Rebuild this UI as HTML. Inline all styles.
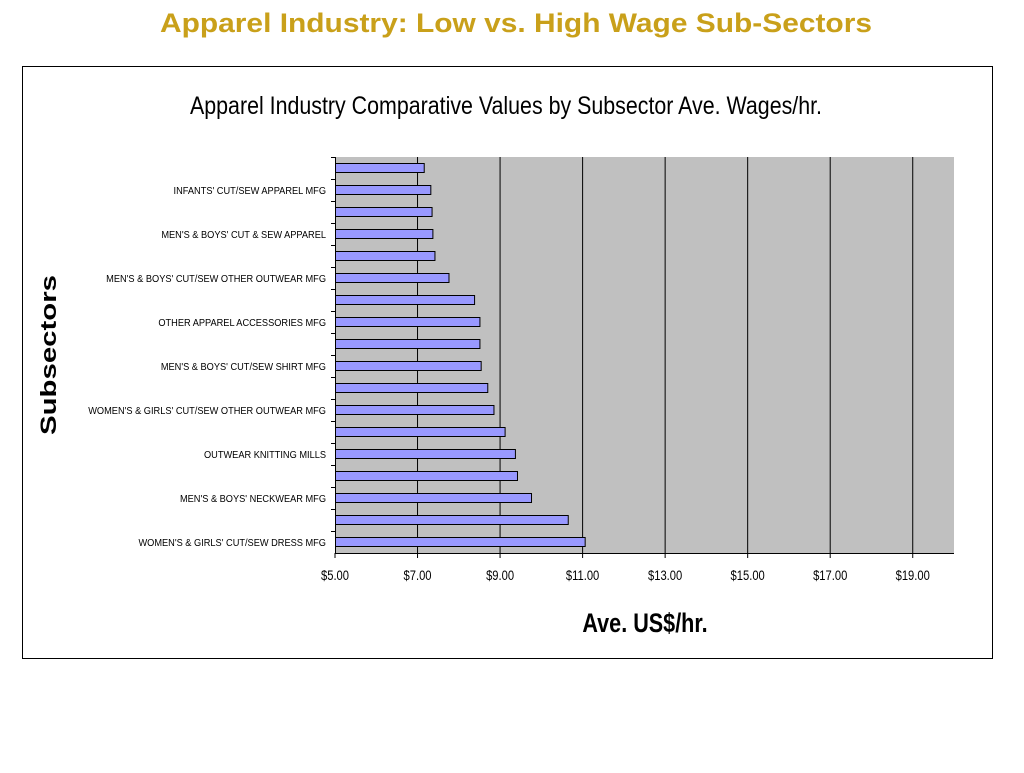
<!DOCTYPE html>
<html><head><meta charset="utf-8"><style>
body{margin:0;background:#fff;width:1024px;height:768px;overflow:hidden;font-family:"Liberation Sans",sans-serif}
</style></head><body>
<svg width="1024" height="768" xmlns="http://www.w3.org/2000/svg" id="svg">
<text x="160" y="32" textLength="712" lengthAdjust="spacingAndGlyphs" font-family="Liberation Sans, sans-serif" font-weight="bold" font-size="27" fill="#C9A01A">Apparel Industry: Low vs. High Wage Sub-Sectors</text>
<rect x="22.5" y="66.5" width="970" height="592" fill="#fff" stroke="#000" stroke-width="1"/>
<text x="190" y="114" textLength="632" lengthAdjust="spacingAndGlyphs" font-size="25" fill="#000">Apparel Industry Comparative Values by Subsector Ave. Wages/hr.</text>
<text transform="translate(56,355) rotate(-90)" text-anchor="middle" textLength="160" lengthAdjust="spacingAndGlyphs" font-weight="bold" font-size="22" fill="#000">Subsectors</text>
<text x="645" y="632" text-anchor="middle" font-weight="bold" font-size="27" transform="translate(645,0) scale(0.8,1) translate(-645,0)" fill="#000">Ave. US$/hr.</text>
<g id="plot"></g>
</svg>
<script>
const categories=["","INFANTS' CUT/SEW APPAREL MFG","","MEN'S & BOYS' CUT & SEW APPAREL","","MEN'S & BOYS' CUT/SEW OTHER OUTWEAR MFG","","OTHER APPAREL ACCESSORIES MFG","","MEN'S & BOYS' CUT/SEW SHIRT MFG","","WOMEN'S & GIRLS' CUT/SEW OTHER OUTWEAR MFG","","OUTWEAR KNITTING MILLS","","MEN'S & BOYS' NECKWEAR MFG","","WOMEN'S & GIRLS' CUT/SEW DRESS MFG"];
const wages=[7.15,7.31,7.34,7.36,7.41,7.75,8.37,8.50,8.50,8.53,8.69,8.84,9.11,9.36,9.41,9.75,10.64,11.05];
const xTicks=[5,7,9,11,13,15,17,19];
const tickLabels=["$5.00","$7.00","$9.00","$11.00","$13.00","$15.00","$17.00","$19.00"];
const NS="http://www.w3.org/2000/svg";
const g=document.getElementById('plot');
const L=335,R=954,T=157,B=553,xmin=5,xmax=20;
const x=v=>L+(v-xmin)/(xmax-xmin)*(R-L);
const rowH=(B-T)/categories.length;
const y=i=>T+i*rowH;
function mk(t,a){const e=document.createElementNS(NS,t);for(const k in a)e.setAttribute(k,a[k]);g.appendChild(e);return e;}
let e=mk('rect',{x:L,y:T,width:R-L,height:B-T,fill:'#C0C0C0'});


xTicks.forEach((v,i)=>{
 if(v>xmin){let l=mk('line',{x1:x(v),x2:x(v),y1:T,y2:B,stroke:'#000','stroke-width':1});
 
 }
 let tk=mk('line',{x1:x(v),x2:x(v),y1:B,y2:B+5,stroke:'#000'});
 
 
 let t=mk('text',{x:x(v),y:B+27,'text-anchor':'middle','font-size':14,transform:`translate(${x(v)},0) scale(0.8,1) translate(${-x(v)},0)`});
 t.textContent=tickLabels[i];
 
 
});
let ax=mk('line',{x1:L,x2:R,y1:B+0.5,y2:B+0.5,stroke:'#000'});


let ay=mk('line',{x1:L+0.5,x2:L+0.5,y1:T,y2:B,stroke:'#000'});


categories.forEach((c,i)=>{
 let tk=mk('line',{x1:L-4,x2:L,y1:y(i)+0.5,y2:y(i)+0.5,stroke:'#000'});
 
 
 let b=mk('rect',{x:L+0.5,y:y(i)+6.5,width:x(wages[i])-L,height:9,fill:'#9999FF',stroke:'#000','stroke-width':1});
 
 
 if(c){let t=mk('text',{x:L-9,y:y(i)+15,'text-anchor':'end','font-size':10.5,transform:`translate(${L-9},0) scale(0.88,1) translate(${-(L-9)},0)`});
 t.textContent=c;
 
 }
});
</script>
</body></html>
